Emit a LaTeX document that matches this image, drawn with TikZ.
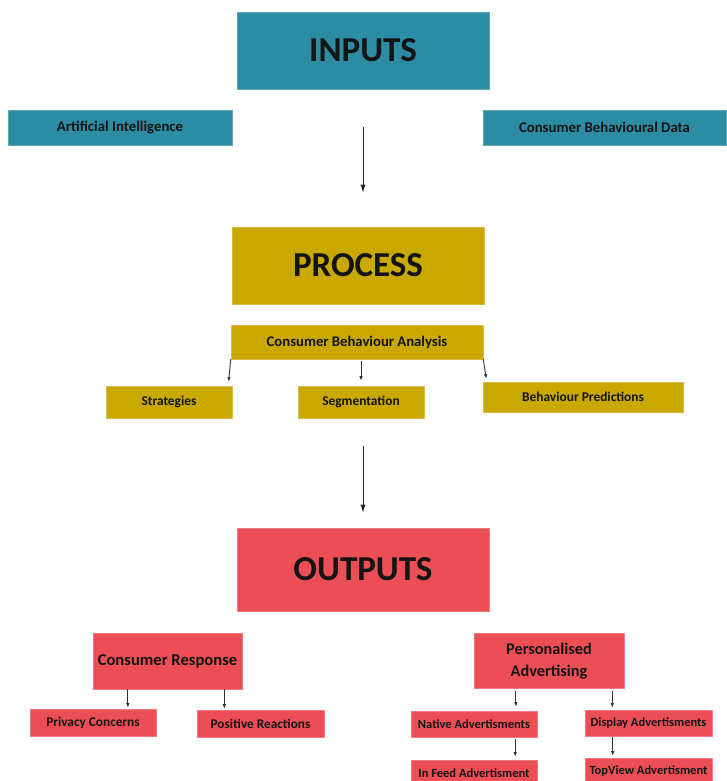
\documentclass[tikz,border=0pt]{standalone}
\usepackage{fontspec}
\setmainfont{Carlito}
\usepackage{tikz}
\usetikzlibrary{arrows.meta,calc}
\definecolor{inputteal}{HTML}{2B8CA4}
\definecolor{processgold}{HTML}{C9A800}
\definecolor{outputred}{HTML}{EC4E55}
\definecolor{labeltext}{HTML}{141414}

\begin{document}
\begin{tikzpicture}[x=1pt,y=-1pt,
    box/.style={draw=#1!75!white,fill=#1,line width=0.6pt,inner sep=0pt,
                text=labeltext,font=\bfseries,align=center},
    bigarrow/.style={-{Latex[length=8pt,width=5pt]},line width=0.9pt,black!85},
    smallarrow/.style={-{Latex[length=4.5pt,width=3.5pt]},line width=0.9pt,black!80}]
  \useasboundingbox (0,0) rectangle (726,781);

  % Inputs
  \node[box=inputteal,minimum width=252pt,minimum height=77pt,font=\fontsize{35}{38}\bfseries]
    (inputs) at (363,50.5) {INPUTS};
  \node[box=inputteal,minimum width=224pt,minimum height=35pt,font=\fontsize{14.8}{17}\bfseries]
    (ai) at (120,127.5) {Artificial Intelligence};
  \node[box=inputteal,minimum width=243pt,minimum height=35pt,font=\fontsize{14.8}{17}\bfseries]
    (cbd) at (604.5,127.5) {Consumer Behavioural Data};

  % Process
  \node[box=processgold,minimum width=252pt,minimum height=77pt,font=\fontsize{35}{38}\bfseries]
    (process) at (358,265.5) {PROCESS};
  \node[box=processgold,minimum width=252pt,minimum height=34pt,font=\fontsize{14.7}{17}\bfseries]
    (cba) at (357,342) {Consumer Behaviour Analysis};
  \node[box=processgold,minimum width=126pt,minimum height=32pt,font=\fontsize{13.4}{16}\bfseries]
    (strat) at (169,402) {Strategies};
  \node[box=processgold,minimum width=126pt,minimum height=32pt,font=\fontsize{13.4}{16}\bfseries]
    (seg) at (361,402) {Segmentation};
  \node[box=processgold,minimum width=200pt,minimum height=30pt,font=\fontsize{13.4}{16}\bfseries]
    (pred) at (583,397) {Behaviour Predictions};

  % Outputs
  \node[box=outputred,minimum width=252pt,minimum height=83pt,font=\fontsize{35}{38}\bfseries]
    (outputs) at (363,569.5) {OUTPUTS};
  \node[box=outputred,minimum width=149pt,minimum height=56pt,font=\fontsize{16.6}{19}\bfseries]
    (resp) at (167.5,661) {Consumer Response};
  \node[box=outputred,minimum width=126pt,minimum height=27pt,font=\fontsize{13.3}{16}\bfseries]
    (priv) at (93,722.5) {Privacy Concerns};
  \node[box=outputred,minimum width=127pt,minimum height=27pt,font=\fontsize{13.3}{16}\bfseries]
    (pos) at (260.5,723.5) {Positive Reactions};
  \node[box=outputred,minimum width=150pt,minimum height=55pt,font=\fontsize{16.3}{22}\bfseries]
    (pers) at (549,661) {Personalised\\Advertising};
  \node[box=outputred,minimum width=126pt,minimum height=26pt,font=\fontsize{12.5}{15}\bfseries]
    (native) at (474,724) {Native Advertisments};
  \node[box=outputred,minimum width=127pt,minimum height=26pt,font=\fontsize{12.5}{15}\bfseries]
    (display) at (648.5,723) {Display Advertisments};
  \node[box=outputred,minimum width=126pt,minimum height=26pt,font=\fontsize{12.5}{15}\bfseries]
    (infeed) at (474,773) {In Feed Advertisment};
  \node[box=outputred,minimum width=127pt,minimum height=26pt,font=\fontsize{12.5}{15}\bfseries]
    (topview) at (648.5,771) {TopView Advertisment};

  % Main flow
  \draw[bigarrow,shorten <=38pt,shorten >=34pt] (inputs.south) -- (inputs.south |- process.north);
  \draw[bigarrow,shorten <=28pt,shorten >=15pt] (outputs.north |- seg.south) -- (outputs.north);

  % Process branches
  \draw[smallarrow,shorten >=4pt] (cba.south west) -- ([xshift=-4pt]strat.north east);
  \draw[smallarrow,shorten <=2pt,shorten >=5pt] (seg.north |- cba.south) -- (seg.north);
  \draw[smallarrow,shorten >=3pt] (cba.south east) -- ([xshift=4pt]pred.north west);

  % Output branches
  \coordinate (r1) at ($(resp.south west)!0.235!(resp.south east)$);
  \coordinate (r2) at ($(resp.south west)!0.88!(resp.south east)$);
  \coordinate (p1) at ($(pers.south west)!0.28!(pers.south east)$);
  \coordinate (p2) at ($(pers.south west)!0.92!(pers.south east)$);
  \coordinate (n1) at ($(native.south west)!0.825!(native.south east)$);
  \coordinate (d1) at ($(display.south west)!0.22!(display.south east)$);
  \draw[smallarrow,shorten >=1pt] (r1) -- (r1 |- priv.north);
  \draw[smallarrow,shorten >=1pt] (r2) -- (r2 |- pos.north);
  \draw[smallarrow,shorten <=2pt,shorten >=4pt] (p1) -- (p1 |- native.north);
  \draw[smallarrow,shorten <=2pt,shorten >=2pt] (p2) -- (p2 |- display.north);
  \draw[smallarrow,shorten <=2pt,shorten >=3pt] (n1) -- (n1 |- infeed.north);
  \draw[smallarrow,shorten <=1pt,shorten >=2pt] (d1) -- (d1 |- topview.north);
\end{tikzpicture}
\end{document}
